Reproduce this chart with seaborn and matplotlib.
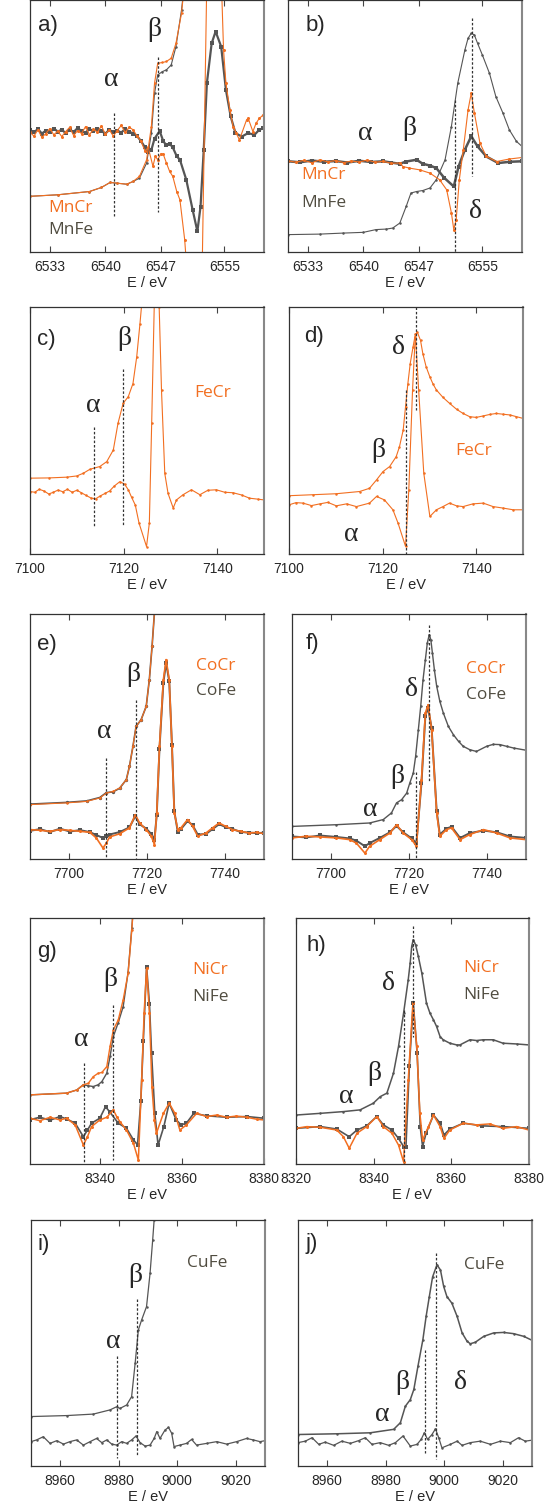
import numpy as np
import pandas as pd
import matplotlib
matplotlib.use('Agg')
import matplotlib.pyplot as plt
import seaborn as sns

sns.set_theme(style='ticks')
plt.rcParams['font.family'] = ['Liberation Sans', 'DejaVu Sans']

ORANGE = '#f26f21'
GRAY = '#555555'
LABEL_GRAY = '#504c40'

# ---- panel a/b : Mn K-edge ----
a_E_abs = [6530.5, 6534, 6538.0, 6539.5, 6540.6, 6541.5, 6542.7, 6543.5, 6544.3, 6545.2, 6545.8, 6546.2,
           6546.6, 6547.2, 6547.7, 6548.3, 6548.9, 6549.6, 6550.1]
a_MnCr_abs = [22.1, 22.7, 24.0, 25.6, 27.6, 27.3, 26.9, 28.0, 30.0, 36.6, 49.8, 67.0,
              74.9, 75.2, 75.6, 76.9, 82.8, 94.7, 110]
a_MnFe_abs = [22.1, 22.7, 24.0, 25.6, 27.6, 27.3, 26.9, 28.0, 29.3, 35.3, 47.2, 63.0,
              70.3, 71.6, 72.3, 74.2, 81.5, 96.0, 110]

a_E_dCr = [6530.5, 6531, 6531.5, 6532, 6532.5, 6533, 6533.5, 6534, 6534.5, 6535, 6535.5, 6536, 6536.5, 6537,
           6537.5, 6538, 6538.5, 6539, 6539.5, 6540, 6540.5, 6541, 6541.5, 6542, 6542.5, 6543, 6543.5, 6544,
           6544.5, 6545.0, 6545.4, 6546.0, 6546.3, 6546.6, 6547.0, 6547.3, 6547.7, 6548.1, 6548.5, 6549.0,
           6549.4, 6550.0, 6550.3, 6552.2, 6552.8, 6553.6, 6554.6, 6554.9, 6555.2, 6555.7, 6556.1, 6556.5,
           6556.9, 6557.8, 6558.0, 6558.6, 6559.0, 6559.4, 6559.9]
a_MnCr_d = [47.5, 46.0, 48.5, 45.5, 47.0, 49.0, 46.5, 48.0, 45.8, 47.8, 49.5, 46.2, 48.2, 47.0,
            49.8, 46.5, 48.8, 47.5, 50.0, 46.8, 48.5, 46.0, 48.2, 50.2, 47.5, 49.5, 48.5, 46.0,
            44.0, 40.0, 41.5, 34.0, 38.0, 36.6, 39.0, 38.8, 35.3, 32.0, 30.0, 24.0,
            20.7, 4.9, -8, -8, 110, 160, 110, 80.2, 67.0, 56.4, 49.8, 47.2,
            44.5, 52.4, 53.1, 47.8, 51.1, 53.0, 54.4]

a_E_dFe = [6530.5, 6531, 6531.5, 6532, 6532.5, 6533, 6533.5, 6534, 6534.5, 6535, 6535.5, 6536, 6536.5, 6537,
           6537.5, 6538, 6538.5, 6539, 6539.5, 6540, 6540.5, 6541, 6541.5, 6542, 6542.5, 6543, 6543.5, 6544,
           6544.5, 6545.0, 6545.4, 6545.8, 6546.2, 6546.85, 6547.3, 6547.7, 6548.1, 6548.5, 6549.0, 6549.4,
           6550.2, 6551.0, 6551.6, 6552.0, 6552.4, 6552.8, 6553.4, 6553.9, 6554.6, 6555.2, 6555.8, 6556.4,
           6557.2, 6558.0, 6558.8, 6559.4, 6559.9]
a_MnFe_d = [48.5, 47.5, 48.8, 47.0, 48.2, 47.5, 49.0, 47.8, 48.5, 47.2, 48.6, 47.6, 49.2, 48.0,
            47.4, 48.8, 47.9, 49.0, 48.0, 47.0, 48.5, 47.5, 48.2, 47.4, 48.8, 47.8, 47.0, 46.0,
            44.0, 41.5, 39.6, 40.5, 45.0, 48.0, 44.0, 42.3, 43.0, 41.5, 38.0, 36.6,
            28.7, 16.8, 8.2, 18.0, 40.5, 67.0, 82.8, 87.5, 81.5, 64.3, 53.8, 47.2,
            45.8, 47.2, 46.5, 48.5, 49.1]
a_ticks = [6533, 6540, 6547, 6555]

b_E_abs = [6530.5, 6534.5, 6537.4, 6540.0, 6541.6, 6542.9, 6543.7, 6544.6, 6545.4, 6546.0, 6546.7, 6547.5,
           6548.4, 6549.2, 6550.3, 6551.1, 6551.9, 6552.8, 6553.2, 6553.6, 6554.0, 6554.4, 6555.0, 6555.9,
           6556.7, 6557.6, 6558.4, 6559.3, 6560.0]
b_MnFe_abs = [6.9, 7.1, 7.5, 7.8, 8.9, 9.1, 9.5, 11.5, 18.1, 23.4, 24.0, 24.4,
              25.4, 28.7, 36.6, 49.8, 67.0, 80.2, 84.8, 86.8, 86.1, 82.8, 78.2, 70.9,
              61.7, 55.1, 48.5, 43.9, 41.9]
b_E_dCr = [6530.5, 6531.5, 6532.5, 6533.5, 6534.5, 6535.5, 6536.5, 6537.5, 6538.5, 6539.5, 6540.5, 6541.5,
           6542.5, 6543.5, 6544.6, 6545.0, 6545.8, 6547.1, 6548.4, 6549.6, 6550.5, 6551.1, 6551.4, 6551.7,
           6552.1, 6552.6, 6553.2, 6553.6, 6554.0, 6554.7, 6555.5, 6556.8, 6558.4, 6560.0]
b_MnCr_d = [36.2, 35.6, 36.4, 35.4, 36.6, 35.8, 36.3, 35.5, 36.1, 35.7, 36.5, 35.6,
            36.0, 35.2, 35.3, 33.9, 33.3, 32.6, 31.3, 28.7, 24.7, 15.5, 8.9, 12.8,
            28.7, 40.6, 56.4, 63.0, 55.1, 43.2, 37.9, 35.9, 36.9, 37.5]
b_E_dFe = [6530.5, 6532, 6533.5, 6535, 6536.5, 6538, 6539.5, 6541, 6542.5, 6543.5, 6544.6, 6545.4,
           6546.7, 6547.5, 6548.4, 6549.2, 6550.2, 6551.4, 6552.0, 6552.8, 6553.6, 6554.4, 6555.5, 6557.0,
           6558.5, 6560.0]
b_MnFe_d = [36.0, 35.6, 36.3, 35.8, 36.1, 35.5, 36.2, 35.7, 36.0, 35.5, 35.0, 35.9,
            36.6, 35.0, 34.3, 33.3, 29.4, 26.0, 33.9, 40.6, 45.9, 41.9, 37.9, 35.3,
            35.8, 36.0]

# ---- panel c/d : Fe K-edge ----
c_E_abs = [7100, 7104, 7107.8, 7110, 7111.4, 7112.8, 7114.9, 7116.4, 7117.8, 7118.8, 7119.9, 7121.0,
           7122.0, 7122.8, 7123.5, 7124.0, 7124.5]
c_FeCr_abs = [30.7, 30.8, 31.1, 31.6, 32.7, 34.3, 35.4, 37.4, 42.1, 52.9, 61.0, 63.7,
              69.0, 79.8, 93.3, 104, 115]
c_E_d = [7100, 7101, 7102, 7103, 7104, 7105, 7106, 7107, 7108, 7109, 7110, 7111, 7112, 7113, 7114, 7115,
         7116, 7117, 7118, 7119.2, 7120.2, 7121, 7121.7, 7122.5, 7123.3, 7124.9, 7125.5, 7126.0, 7126.6,
         7126.8, 7127.6, 7128.1, 7128.8, 7129.5, 7130.6, 7131.3, 7132.7, 7134.5, 7136.3, 7138.0, 7139.8,
         7141.6, 7143.4, 7145.2, 7146.9, 7148.7, 7150]
c_FeCr_d = [25.3, 25.0, 26.2, 25.5, 24.3, 25.0, 25.9, 25.2, 26.2, 25.0, 25.8, 24.8, 23.7, 22.7, 22.3, 23.5,
            24.5, 25.5, 27.5, 29.3, 28.3, 26.0, 23.0, 19.8, 12.5, 3.0, 12.5, 52.9, 105,
            115, 100, 66.2, 32.6, 24.5, 18.6, 21.9, 24.0, 26.0, 24.0, 25.8, 26.0,
            25.0, 24.8, 23.9, 22.6, 22.2, 21.9]
c_ticks = [7100, 7120, 7140]

d_E_abs = [7100, 7105.1, 7110.1, 7115.1, 7117.2, 7118.7, 7120.1, 7121.5, 7122.9, 7123.6, 7124.4, 7124.9,
           7125.4, 7125.9, 7126.5, 7126.9, 7127.4, 7128.1, 7128.6, 7129.3, 7130.1, 7130.8, 7131.5, 7132.9,
           7134.3, 7135.8, 7137.2, 7138.6, 7140.0, 7141.5, 7142.9, 7144.3, 7145.7, 7147.2, 7148.6, 7150]
d_FeCr_abs = [23.6, 24.0, 24.4, 25.3, 26.6, 30.0, 33.4, 35.4, 39.4, 43.4, 50.2, 59.6,
              69.0, 77.1, 83.8, 87.9, 89.9, 86.5, 81.1, 75.8, 71.7, 68.7, 66.4, 63.4,
              61.0, 58.6, 56.9, 55.6, 55.3, 55.9, 56.5, 56.9, 56.6, 56.3, 55.6, 54.9]
d_E_d = [7100, 7101.5, 7103.0, 7104.8, 7106.6, 7108.3, 7110.1, 7112.3, 7114.4, 7117.2, 7118.7, 7120.4,
         7122.2, 7123.3, 7124.9, 7125.6, 7126.4, 7127.0, 7127.7, 7128.8, 7130.1, 7131.5, 7132.9, 7134.3,
         7135.8, 7137.2, 7139.3, 7141.5, 7143.6, 7145.7, 7147.9, 7150]
d_FeCr_d = [19.9, 20.8, 20.6, 19.6, 20.3, 20.9, 19.5, 20.3, 19.2, 20.6, 23.3, 21.9,
            17.9, 12.5, 3.1, 26.0, 66.4, 89.2, 66.4, 32.7, 15.2, 17.9, 19.2, 20.6,
            19.5, 19.2, 20.3, 20.6, 19.2, 18.6, 17.9, 17.9]

# ---- panel e/f : Co K-edge ----
e_E_abs = [7690, 7699.4, 7704.5, 7707.9, 7709.6, 7711.3, 7713.0, 7714.7, 7715.5, 7716.4, 7717.2, 7718.5,
           7719.8, 7720.6, 7721.3, 7721.9, 7722.3]
e_CoCr_abs = [22.2, 22.9, 23.5, 24.9, 26.9, 27.6, 29.0, 32.4, 37.8, 46.0, 54.1, 56.9,
              62.3, 73.2, 86.8, 100.4, 110]
e_CoFe_abs = [22.4, 23.1, 23.7, 25.1, 27.1, 27.4, 28.9, 32.4, 37.8, 46.0, 54.1, 56.9,
              62.3, 73.2, 86.8, 100.4, 110]
e_E_d = [7690, 7692.6, 7695.1, 7697.7, 7700.2, 7702.8, 7705.3, 7707.0, 7708.7, 7709.6, 7710.4, 7713.0,
         7715.5, 7717.0, 7718.1, 7719.8, 7721.1, 7721.9, 7722.5, 7723.2, 7724.2, 7724.9, 7725.7, 7726.4,
         7727.0, 7727.9, 7728.7, 7730.4, 7731.7, 7733.0, 7735.1, 7736.8, 7738.5, 7740.2, 7741.9, 7744.0,
         7746.2, 7748.3, 7750]
e_CoCr_d = [12.0, 11.7, 11.3, 12.0, 11.7, 11.3, 10.9, 8.6, 4.5, 6.5, 9.0, 10.3,
            12.7, 18.1, 14.7, 12.0, 9.3, 5.9, 18.8, 46.0, 73.2, 81.4, 73.2, 46.0,
            18.8, 12.0, 12.7, 16.1, 13.3, 9.3, 10.6, 12.7, 14.7, 13.3, 12.0, 11.3,
            10.6, 10.9, 10.3]
e_CoFe_d = [11.5, 12.2, 11.0, 12.4, 11.2, 11.8, 11.0, 9.8, 8.6, 9.3, 10.0, 11.0,
            12.9, 17.5, 14.2, 12.4, 10.2, 7.9, 18.0, 45.0, 72.0, 80.0, 72.5, 46.5,
            19.5, 11.0, 12.2, 15.5, 13.8, 10.0, 10.2, 12.2, 14.2, 13.0, 12.3, 11.0,
            10.8, 10.5, 10.8]
e_ticks = [7700, 7720, 7740]

f_E_abs = [7690, 7701.4, 7709.9, 7713.4, 7715.5, 7716.8, 7718.1, 7719.4, 7720.2, 7721.1, 7721.7, 7722.4,
           7723.0, 7723.6, 7724.2, 7724.7, 7725.2, 7725.6, 7726.0, 7726.5, 7727.1, 7727.9, 7728.8, 7730.1,
           7731.4, 7732.7, 7733.9, 7735.6, 7737.3, 7739.9, 7741.6, 7743.3, 7745.0, 7746.8, 7750]
f_CoFe_abs = [13.3, 14.0, 14.7, 16.1, 18.8, 22.9, 24.2, 26.9, 31.0, 35.1, 41.9, 52.8,
              62.3, 73.2, 81.4, 88.2, 91.6, 89.5, 84.1, 77.3, 70.5, 64.4, 59.6, 54.1,
              50.7, 48.0, 46.0, 44.6, 43.9, 46.0, 46.8, 46.7, 46.0, 45.3, 44.4]
f_E_d = [7690, 7693.7, 7697.1, 7701.4, 7704.8, 7706.5, 7708.7, 7709.9, 7712.5, 7715.1, 7716.8, 7718.5,
         7720.7, 7721.9, 7723.2, 7724.2, 7724.9, 7725.8, 7727.1, 7727.9, 7729.6, 7730.9, 7733.1, 7735.6,
         7739.1, 7742.5, 7745.9, 7750]
f_CoCr_d = [8.6, 9.3, 9.0, 8.6, 7.9, 6.5, 2.4, 5.2, 7.9, 10.6, 14.0, 10.6,
            7.9, 5.2, 32.4, 59.6, 63.0, 52.8, 18.8, 9.3, 12.0, 12.7, 7.9, 10.0,
            12.0, 10.6, 8.6, 7.9]
f_CoFe_d = [9.2, 8.8, 9.6, 9.0, 8.4, 7.5, 5.2, 6.5, 8.6, 10.9, 13.5, 10.9,
            8.4, 6.5, 31.0, 58.5, 61.6, 53.5, 19.5, 10.0, 12.4, 13.2, 8.6, 10.6,
            11.6, 10.9, 9.2, 8.6]

# ---- panel g/h : Ni K-edge ----
g_E_abs = [8323, 8331.9, 8334.4, 8336.0, 8337.2, 8338.4, 8339.6, 8340.5, 8341.7, 8342.5, 8343.3, 8344.5,
           8345.7, 8346.9, 8347.8, 8348.2]
g_NiCr_abs = [28.1, 28.8, 30.1, 32.2, 32.8, 35.5, 36.9, 37.2, 39.6, 47.8, 54.5, 58.6,
              66.8, 77.6, 95.3, 104.7]
g_NiFe_abs = [28.1, 28.8, 30.1, 32.2, 31.8, 31.5, 32.2, 33.5, 36.9, 43.7, 51.8, 57.5,
              64.0, 78.0, 96.0, 105]
g_E_dCr = [8323, 8325.4, 8327.9, 8330.3, 8331.9, 8334.0, 8336.0, 8337.0, 8338.0, 8340.0, 8341.7, 8343.3,
           8344.1, 8344.9, 8346.5, 8348.2, 8349.4, 8350.2, 8350.8, 8351.4, 8352.1, 8352.7, 8353.3, 8353.8,
           8355.5, 8356.9, 8358.3, 8359.5, 8361.1, 8363.6, 8366.0, 8368.5, 8370.9, 8373.3, 8375.8, 8378.2,
           8380]
g_NiCr_d = [18.6, 17.6, 19.0, 17.9, 18.6, 15.9, 7.7, 11.1, 15.2, 17.9, 19.0, 22.0,
            19.3, 17.2, 13.8, 8.4, 1.6, 34.2, 61.3, 79.6, 61.3, 31.5, 17.9, 12.5,
            20.6, 24.7, 20.6, 13.8, 15.9, 20.6, 19.3, 19.9, 19.0, 19.5, 19.0, 18.2,
            17.9]
g_E_dFe = [8323, 8325.4, 8327.9, 8330.3, 8331.9, 8334.0, 8336.0, 8337.0, 8338.0, 8340.0, 8341.4, 8342.5,
           8344.5, 8346.5, 8348.2, 8349.2, 8350.0, 8350.6, 8351.4, 8352.1, 8352.6, 8353.4, 8354.2, 8355.6,
           8356.9, 8358.6, 8359.8, 8361.1, 8362.9, 8366.0, 8370.9, 8375.8, 8380]
g_NiFe_d = [18.0, 19.0, 17.8, 19.3, 18.3, 16.6, 11.1, 13.8, 16.6, 18.6, 23.3, 21.0,
            16.6, 14.5, 9.8, 7.8, 25.8, 50.0, 80.2, 65.0, 45.3, 20.6, 7.7, 15.2,
            24.7, 18.0, 15.9, 16.6, 20.6, 19.6, 19.0, 19.3, 18.6]
g_ticks = [8340, 8360, 8380]

h_E_abs = [8320, 8326.3, 8332.2, 8336.5, 8339.9, 8341.7, 8343.4, 8345.1, 8346.4, 8347.7, 8348.9, 8349.4,
           8349.8, 8350.2, 8350.8, 8351.5, 8352.4, 8353.6, 8354.5, 8355.4, 8356.2, 8357.1, 8357.9, 8359.6,
           8361.4, 8362.2, 8364.8, 8366.5, 8368.2, 8370.8, 8373.3, 8376.8, 8380]
h_NiFe_abs = [19.9, 20.6, 21.3, 22.0, 24.7, 27.4, 28.8, 36.9, 47.8, 61.3, 74.9, 81.7,
              88.5, 91.2, 89.1, 84.4, 77.6, 65.4, 61.3, 58.6, 55.9, 51.8, 50.5, 49.1,
              48.4, 48.4, 50.5, 50.2, 50.5, 50.5, 49.1, 48.8, 48.4]
h_E_dCr = [8320, 8322.8, 8326.3, 8330.5, 8332.2, 8333.7, 8335.7, 8338.2, 8340.8, 8342.5, 8344.7, 8346.4,
           8347.7, 8348.9, 8350.1, 8351.1, 8351.9, 8352.6, 8354.1, 8355.4, 8357.1, 8358.1, 8359.6, 8363.1,
           8366.5, 8369.9, 8373.3, 8376.8, 8380]
h_NiCr_d = [14.5, 15.2, 14.9, 13.8, 11.1, 6.4, 12.5, 15.2, 19.3, 15.2, 12.5, 7.7,
            0.9, 34.2, 65.4, 47.8, 20.6, 9.8, 15.2, 19.9, 15.2, 10.4, 13.8, 16.6,
            15.9, 16.3, 14.5, 15.2, 13.8]
h_E_dFe = [8320, 8326.3, 8330.5, 8333.7, 8335.7, 8338.2, 8340.8, 8342.5, 8344.7, 8346.4, 8347.7, 8348.3,
           8349.2, 8350.2, 8351.2, 8352.0, 8352.6, 8353.5, 8355.4, 8357.1, 8358.1, 8359.6, 8363.1, 8368.0,
           8373.3, 8380]
h_NiFe_d = [14.5, 15.2, 14.2, 11.1, 13.8, 15.5, 19.3, 15.9, 13.8, 10.4, 7.1, 6.8,
            40.0, 65.4, 45.0, 15.0, 7.1, 12.5, 19.9, 16.6, 11.8, 14.2, 16.6, 15.5,
            15.2, 14.5]
h_ticks = [8320, 8340, 8360, 8380]

# ---- panel i/j : Cu K-edge ----
i_E_abs = [8950, 8962.2, 8971.3, 8977.0, 8979.3, 8980.4, 8982.7, 8984.4, 8985.6, 8986.7, 8987.8, 8989.5,
           8990.7, 8991.6, 8992.1, 8992.5]
i_CuFe_abs = [20.1, 20.5, 21.1, 22.8, 24.1, 23.4, 24.8, 28.2, 41.7, 55.3, 59.3, 64.8,
              78.3, 91.9, 100, 108]
i_E_d = [8950, 8951.9, 8954.2, 8956.5, 8958.8, 8961.1, 8963.3, 8965.6, 8967.9, 8970.2, 8972.4, 8974.2,
         8975.9, 8977.6, 8979.3, 8981.0, 8982.7, 8984.4, 8985.9, 8987.3, 8989.0, 8990.7, 8992.1, 8993.0,
         8994.1, 8995.8, 8997.0, 8998.1, 8998.9, 9000.9, 9003.2, 9004.9, 9006.6, 9010.1, 9013.5, 9016.9,
         9020.3, 9023.7, 9026.0, 9028.3, 9030]
i_CuFe_d = [9.9, 10.6, 11.9, 9.2, 10.3, 8.9, 9.9, 10.6, 8.5, 9.9, 11.2, 9.5,
            10.6, 8.9, 8.5, 9.9, 9.2, 10.6, 12.2, 9.5, 8.1, 8.5, 11.2, 14.0,
            11.2, 14.6, 15.7, 13.3, 7.9, 8.5, 9.2, 10.8, 8.5, 9.2, 9.9, 8.9,
            9.9, 11.2, 10.6, 9.9, 10.3]
i_ticks = [8960, 8980, 9000, 9020]

j_E_abs = [8950, 8963.3, 8974.7, 8982.7, 8985.0, 8986.7, 8988.4, 8989.6, 8991.0, 8992.7, 8993.8, 8994.9,
           8996.0, 8997.5, 8998.7, 8999.8, 9000.9, 9002.6, 9004.4, 9006.1, 9007.8, 9008.9, 9010.6, 9013.5,
           9016.9, 9020.3, 9023.7, 9027.2, 9030]
j_CuFe_abs = [12.8, 13.1, 13.5, 14.9, 17.6, 24.3, 27.0, 31.1, 40.5, 51.4, 60.8, 68.9,
              76.8, 81.8, 79.7, 73.0, 68.9, 66.2, 60.8, 54.1, 50.7, 49.7, 50.3, 52.7,
              54.1, 54.3, 53.8, 52.7, 51.1]
j_E_d = [8950, 8952.5, 8954.8, 8957.1, 8959.3, 8962.2, 8965.0, 8967.9, 8970.7, 8973.0, 8975.3, 8978.1,
         8981.0, 8983.3, 8985.9, 8988.4, 8990.7, 8992.1, 8993.2, 8994.3, 8995.8, 8997.0, 8998.1, 8999.2,
         9002.1, 9004.4, 9006.1, 9008.9, 9012.3, 9015.8, 9019.2, 9022.6, 9025.4, 9027.7, 9030]
j_CuFe_d = [9.5, 10.1, 11.5, 8.8, 9.7, 8.4, 10.1, 9.2, 10.3, 11.5, 8.8, 9.5,
            8.4, 9.5, 12.2, 8.1, 8.8, 10.8, 13.5, 10.8, 12.8, 15.1, 11.5, 7.4,
            8.8, 10.1, 8.4, 9.5, 10.1, 8.8, 10.1, 9.5, 11.5, 10.1, 10.5]

W, H = 553, 1510
fig = plt.figure(figsize=(W / 100, H / 100), dpi=100)


def make_ax(left, top, right, bottom, xlim, ticks):
    ax = fig.add_axes([left / W, 1 - bottom / H, (right - left) / W, (bottom - top) / H])
    ax.set_xlim(*xlim)
    ax.set_ylim(0, 100)
    ax.set_yticks([])
    ax.set_xticks(ticks)
    ax.set_xticklabels([str(t) for t in ticks])
    ax.tick_params(axis='x', direction='in', top=True, bottom=True, length=4, width=0.8,
                   labelsize=10, pad=6, color='#444444')
    for s in ax.spines.values():
        s.set_color('#333333')
        s.set_linewidth(0.9)
    ax.spines['right'].set_color('#888888')
    ax.spines['right'].set_linewidth(1.5)
    return ax


def curve(ax, x, y, color, ms=1.8, lw=0.8, marker='o'):
    df = pd.DataFrame({'E': x, 'y': y})
    sns.lineplot(data=df, x='E', y='y', ax=ax, color=color, linewidth=lw, marker=marker,
                 markersize=ms, markeredgewidth=0, estimator=None, sort=False)
    ax.set_xlabel('E / eV', fontsize=10.5, labelpad=1)
    ax.set_ylabel('')


def vdash(ax, x, y0, y1):
    ax.plot([x, x], [y0, y1], color='#333333', linestyle=(0, (2, 1.5)), linewidth=0.9)


def greek(ax, x, y, s):
    ax.text(x, y, s, fontsize=20, ha='center', va='center', family=['Liberation Serif', 'DejaVu Serif'])


def tag(ax, x, y, s):
    ax.text(x, y, s, transform=ax.transAxes, fontsize=16, ha='left', va='center')


def name(ax, x, y, s, color):
    ax.text(x, y, s, transform=ax.transAxes, fontsize=12.5, ha='left', va='center', color=color,
            family=['Open Sans', 'DejaVu Sans'])


# a)
ax = make_ax(30, 0, 264, 252, (6530.5, 6560), a_ticks)
curve(ax, a_E_dFe, a_MnFe_d, GRAY, ms=3.0, lw=1.6, marker='s')
curve(ax, a_E_dCr, a_MnCr_d, ORANGE, ms=2.2)
curve(ax, a_E_abs, a_MnFe_abs, GRAY)
curve(ax, a_E_abs, a_MnCr_abs, ORANGE)
vdash(ax, 6541.1, 55.1, 14.4)
vdash(ax, 6546.6, 77.5, 15.7)
greek(ax, 6540.8, 68.3, 'α')
greek(ax, 6546.2, 88.1, 'β')
tag(ax, 0.035, 0.9, 'a)')
name(ax, 0.08, 0.174, 'MnCr', ORANGE)
name(ax, 0.08, 0.089, 'MnFe', LABEL_GRAY)

# b)
ax = make_ax(288, 0, 522, 252, (6530.5, 6560), a_ticks)
curve(ax, b_E_abs, b_MnFe_abs, GRAY, lw=0.8)
curve(ax, b_E_dFe, b_MnFe_d, GRAY, ms=2.8, lw=1.8, marker='s')
curve(ax, b_E_dCr, b_MnCr_d, ORANGE, ms=2.2)
vdash(ax, 6551.5, 60.4, 0)
vdash(ax, 6553.7, 92.7, 30.0)
greek(ax, 6540.2, 47.2, 'α')
greek(ax, 6545.8, 49.1, 'β')
greek(ax, 6554.2, 16.1, 'δ')
tag(ax, 0.075, 0.9, 'b)')
name(ax, 0.055, 0.306, 'MnCr', ORANGE)
name(ax, 0.055, 0.194, 'MnFe', LABEL_GRAY)

# c)
ax = make_ax(30, 307, 264, 554, (7100, 7150), c_ticks)
curve(ax, c_E_abs, c_FeCr_abs, ORANGE)
curve(ax, c_E_d, c_FeCr_d, ORANGE)
vdash(ax, 7113.7, 51.4, 10.9)
vdash(ax, 7119.9, 75.1, 11.8)
greek(ax, 7113.5, 60.3, 'α')
greek(ax, 7120.1, 87.2, 'β')
tag(ax, 0.03, 0.87, 'c)')
name(ax, 0.70, 0.65, 'FeCr', ORANGE)

# d)
ax = make_ax(289, 307, 523, 554, (7100, 7150), c_ticks)
curve(ax, d_E_abs, d_FeCr_abs, ORANGE)
curve(ax, d_E_d, d_FeCr_d, ORANGE)
vdash(ax, 7124.9, 66.4, 0)
vdash(ax, 7127.2, 100, 58.2)
greek(ax, 7123.3, 83.8, 'δ')
greek(ax, 7119.0, 42.1, 'β')
greek(ax, 7113.3, 7.8, 'α')
tag(ax, 0.065, 0.88, 'd)')
name(ax, 0.71, 0.415, 'FeCr', ORANGE)

# e)
ax = make_ax(30, 614, 264, 859, (7690, 7750), e_ticks)
curve(ax, e_E_abs, e_CoFe_abs, GRAY, ms=2.4, lw=1.2)
curve(ax, e_E_abs, e_CoCr_abs, ORANGE)
curve(ax, e_E_d, e_CoFe_d, GRAY, ms=2.8, lw=1.4, marker='s')
curve(ax, e_E_d, e_CoCr_d, ORANGE, ms=2.2, lw=1.2)
vdash(ax, 7709.6, 41.1, 0)
vdash(ax, 7717.2, 64.9, 0.4)
greek(ax, 7709.1, 52.1, 'α')
greek(ax, 7716.4, 75.2, 'β')
tag(ax, 0.03, 0.875, 'e)')
name(ax, 0.71, 0.786, 'CoCr', ORANGE)
name(ax, 0.71, 0.684, 'CoFe', LABEL_GRAY)

# f)
ax = make_ax(292, 614, 526, 859, (7690, 7750), e_ticks)
curve(ax, f_E_abs, f_CoFe_abs, GRAY, lw=1.0)
curve(ax, f_E_d, f_CoFe_d, GRAY, ms=2.8, lw=1.4, marker='s')
curve(ax, f_E_d, f_CoCr_d, ORANGE, ms=2.2, lw=1.2)
vdash(ax, 7721.9, 35.4, 0)
vdash(ax, 7725.2, 95.6, 31.3)
greek(ax, 7720.7, 69.1, 'δ')
greek(ax, 7717.1, 33.7, 'β')
greek(ax, 7710.0, 20.1, 'α')
tag(ax, 0.06, 0.88, 'f)')
name(ax, 0.745, 0.776, 'CoCr', ORANGE)
name(ax, 0.745, 0.67, 'CoFe', LABEL_GRAY)

# g)
ax = make_ax(30, 918, 264, 1164, (8323, 8380), g_ticks)
curve(ax, g_E_abs, g_NiFe_abs, GRAY, lw=1.0)
curve(ax, g_E_abs, g_NiCr_abs, ORANGE, lw=1.0)
curve(ax, g_E_dFe, g_NiFe_d, GRAY, ms=2.8, lw=1.2, marker='s')
curve(ax, g_E_dCr, g_NiCr_d, ORANGE, ms=2.2, lw=1.1)
vdash(ax, 8336.1, 41.2, 0)
vdash(ax, 8343.3, 64.7, 1.6)
greek(ax, 8335.6, 50.5, 'α')
greek(ax, 8342.5, 74.9, 'β')
tag(ax, 0.03, 0.864, 'g)')
name(ax, 0.695, 0.79, 'NiCr', ORANGE)
name(ax, 0.695, 0.68, 'NiFe', LABEL_GRAY)

# h)
ax = make_ax(296, 918, 529, 1164, (8320, 8380), h_ticks)
curve(ax, h_E_abs, h_NiFe_abs, GRAY, lw=1.1)
curve(ax, h_E_dFe, h_NiFe_d, GRAY, ms=2.8, lw=1.2, marker='s')
curve(ax, h_E_dCr, h_NiCr_d, ORANGE, ms=2.2, lw=1.1)
vdash(ax, 8347.7, 62.7, 0)
vdash(ax, 8350.2, 96.9, 51.6)
greek(ax, 8343.8, 73.5, 'δ')
greek(ax, 8340.1, 36.9, 'β')
greek(ax, 8332.9, 27.4, 'α')
tag(ax, 0.044, 0.89, 'h)')
name(ax, 0.718, 0.796, 'NiCr', ORANGE)
name(ax, 0.718, 0.688, 'NiFe', LABEL_GRAY)

# i)
ax = make_ax(31, 1220, 265, 1466, (8950, 9030), i_ticks)
curve(ax, i_E_abs, i_CuFe_abs, GRAY, lw=0.9)
curve(ax, i_E_d, i_CuFe_d, GRAY, lw=0.9)
vdash(ax, 8979.5, 44.7, 3.1)
vdash(ax, 8986.1, 68.0, 4.5)
greek(ax, 8978.1, 50.5, 'α')
greek(ax, 8985.6, 77.6, 'β')
tag(ax, 0.027, 0.9, 'i)')
name(ax, 0.665, 0.824, 'CuFe', LABEL_GRAY)

# j)
ax = make_ax(298, 1220, 532, 1466, (8950, 9030), i_ticks)
curve(ax, j_E_abs, j_CuFe_abs, GRAY, lw=1.1)
curve(ax, j_E_d, j_CuFe_d, GRAY, lw=0.9)
vdash(ax, 8993.3, 47.3, 5.4)
vdash(ax, 8997.3, 86.5, 2.7)
greek(ax, 8978.7, 20.9, 'α')
greek(ax, 8985.6, 34.1, 'β')
greek(ax, 9005.5, 34.1, 'δ')
tag(ax, 0.031, 0.905, 'j)')
name(ax, 0.708, 0.818, 'CuFe', LABEL_GRAY)

fig.savefig('out.png', dpi=100)
